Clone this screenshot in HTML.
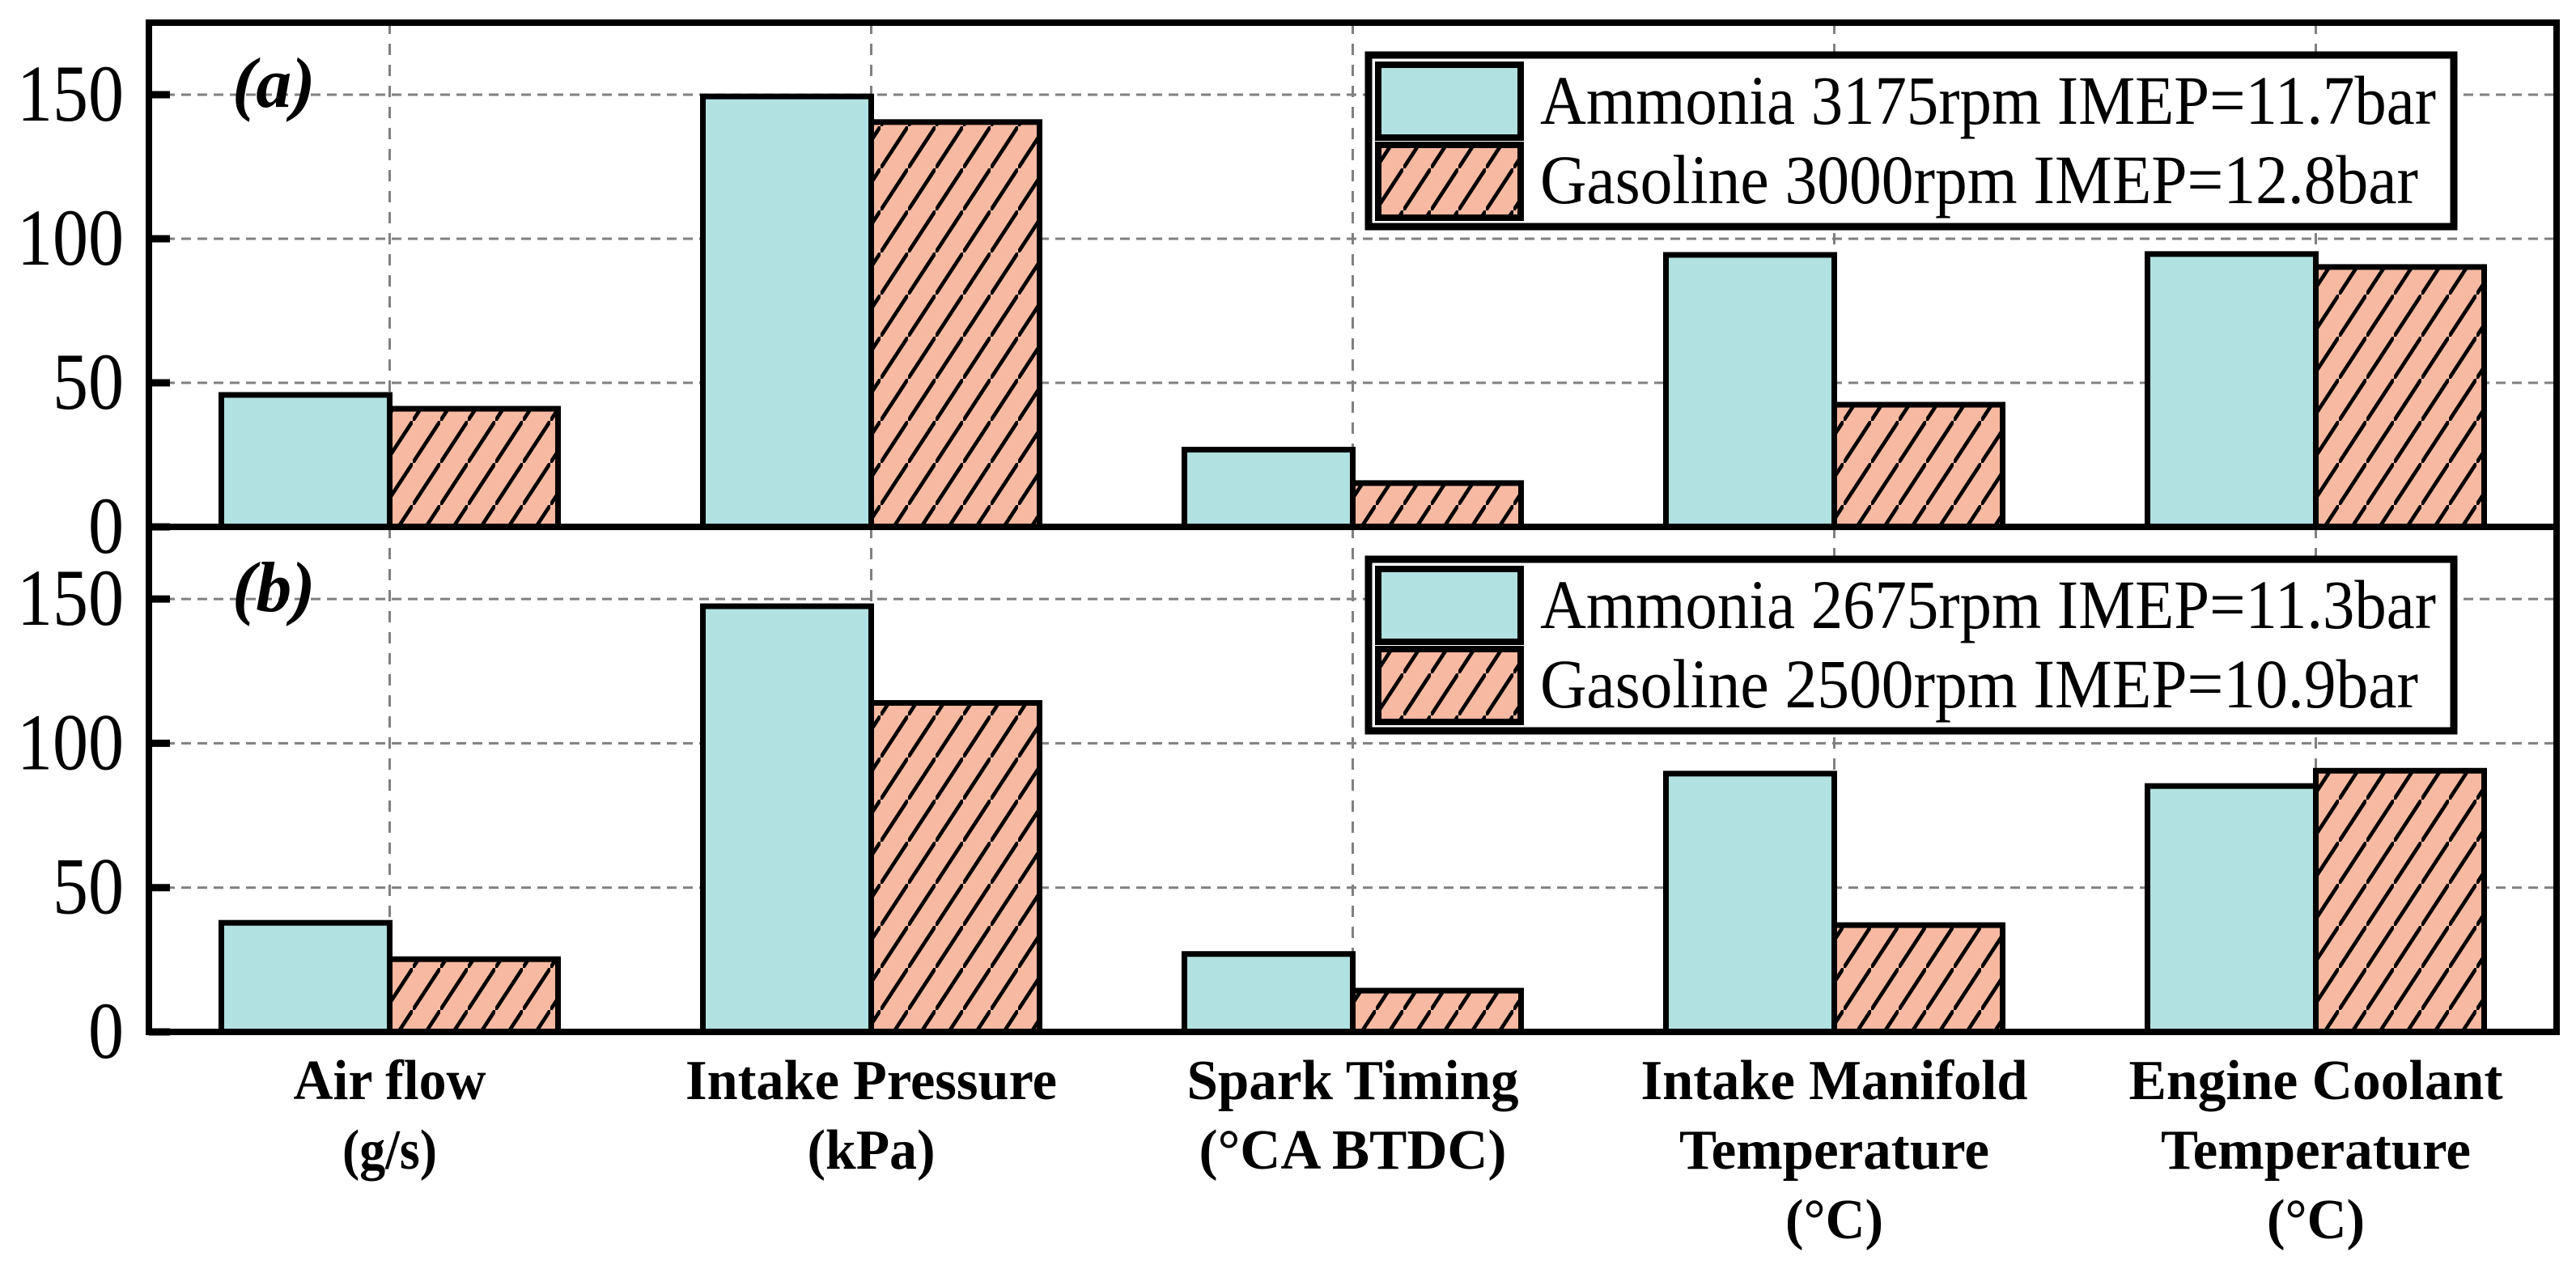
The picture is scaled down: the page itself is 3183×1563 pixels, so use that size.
<!DOCTYPE html>
<html><head><meta charset="utf-8">
<style>
html,body{margin:0;padding:0;background:#fff;}
svg{display:block;}
text{font-family:"Liberation Serif","DejaVu Serif",serif;}
</style></head>
<body>
<svg id="chart" width="3183" height="1563" viewBox="0 0 3183 1563" xmlns="http://www.w3.org/2000/svg" font-family="Liberation Serif, DejaVu Serif, serif">
<defs>
<pattern id="hatch" patternUnits="userSpaceOnUse" width="34" height="52">
<rect width="34" height="52" fill="#f7b9a1"/>
<line x1="-17" y1="78" x2="17" y2="26" stroke="#000" stroke-width="4.5"/>
<line x1="0" y1="52" x2="34" y2="0" stroke="#000" stroke-width="4.5"/>
<line x1="17" y1="26" x2="51" y2="-26" stroke="#000" stroke-width="4.5"/>
</pattern>
</defs>
<g id="root"></g>
</svg>
<script>
const categories = ["Air flow|(g/s)", "Intake Pressure|(kPa)", "Spark Timing|(°CA BTDC)", "Intake Manifold|Temperature|(°C)", "Engine Coolant|Temperature|(°C)"];
const ammoniaA = [45.8, 149.4, 26.8, 94.4, 94.7];
const gasolineA = [41.0, 140.5, 15.2, 42.4, 90.2];
const ammoniaB = [37.8, 147.5, 27.0, 89.5, 85.2];
const gasolineB = [25.2, 114.0, 14.3, 37.0, 90.5];
const yTicks = [0, 50, 100, 150];
const legendA = ["Ammonia 3175rpm IMEP=11.7bar", "Gasoline 3000rpm IMEP=12.8bar"];
const legendB = ["Ammonia 2675rpm IMEP=11.3bar", "Gasoline 2500rpm IMEP=10.9bar"];

const NS = "http://www.w3.org/2000/svg";
const root = document.getElementById("root");
const FONT = '"Liberation Serif", "DejaVu Serif", serif';
const X0 = 184, X1 = 3159, YMAX = 175;
const catW = (X1 - X0) / categories.length;
const barW = 208;
const labelWidths = {"Air flow": 238, "(g/s)": 117, "Intake Pressure": 459, "(kPa)": 158, "Spark Timing": 410, "(°CA BTDC)": 380, "Intake Manifold": 478, "Temperature": 383, "(°C)": 121, "Engine Coolant": 462};
function xCenter(i){ return X0 + catW * (i + 0.5); }

function mk(tag, attrs, parent){
  const e = document.createElementNS(NS, tag);
  for (const k in attrs) e.setAttribute(k, attrs[k]);
  if (tag === "text") e.style.fontFamily = FONT;
  (parent || root).appendChild(e);
  return e;
}

function panel(top, bottom, amm, gas, leg, tag, label){
  const g = mk("g", {});
  
  
  const y = v => bottom - (v / YMAX) * (bottom - top);
  yTicks.forEach(t => {
    if (t === 0) return;
    const l = mk("line", {x1: X0, x2: X1, y1: y(t), y2: y(t), stroke: "#808080", "stroke-width": 3, "stroke-dasharray": "12 8"}, g);
    
    
  });
  categories.forEach((c, i) => {
    const l = mk("line", {x1: xCenter(i), x2: xCenter(i), y1: top, y2: bottom, stroke: "#808080", "stroke-width": 3, "stroke-dasharray": "14 12"}, g);
    
    
  });
  categories.forEach((c, i) => {
    const cx = xCenter(i);
    const a = mk("rect", {x: cx - barW, y: y(amm[i]), width: barW, height: bottom - y(amm[i]), fill: "#b1e1e1", stroke: "#000", "stroke-width": 7}, g);
    
    
    const b = mk("rect", {x: cx, y: y(gas[i]), width: barW, height: bottom - y(gas[i]), fill: "url(#hatch)", stroke: "#000", "stroke-width": 7}, g);
    
    
  });
  yTicks.forEach(t => {
    const tk = mk("line", {x1: X0, x2: X0 + 26, y1: y(t), y2: y(t), stroke: "#000", "stroke-width": 9}, g);
    
    
    const s = String(t);
    const tx = mk("text", {x: 153, y: y(t) + 32, "text-anchor": "end", "font-size": 100, textLength: 44 * s.length, lengthAdjust: "spacingAndGlyphs"}, g);
    tx.textContent = s;
    
    
  });
  const fr = mk("rect", {x: X0, y: top, width: X1 - X0, height: bottom - top, fill: "none", stroke: "#000", "stroke-width": 8}, g);
  
  
  const pl = mk("text", {x: 287, y: top + 104, "font-size": 88, "font-weight": "bold", "font-style": "italic"}, g);
  pl.textContent = label;
  
  
  const lg = mk("g", {}, g);
  
  
  const lt = top + 40;
  mk("rect", {x: 1691, y: lt, width: 1341, height: 212, fill: "#fff", stroke: "#000", "stroke-width": 9}, lg);
  const sw1 = mk("rect", {x: 1703, y: lt + 12, width: 176, height: 90, fill: "#b1e1e1", stroke: "#000", "stroke-width": 8}, lg);
  
  
  const sw2 = mk("rect", {x: 1703, y: lt + 111, width: 176, height: 90, fill: "url(#hatch)", stroke: "#000", "stroke-width": 8}, lg);
  
  
  const t1 = mk("text", {x: 1903, y: lt + 85, "font-size": 86, textLength: 1107, lengthAdjust: "spacingAndGlyphs"}, lg);
  t1.textContent = leg[0];
  
  
  const t2 = mk("text", {x: 1903, y: lt + 183, "font-size": 86, textLength: 1085, lengthAdjust: "spacingAndGlyphs"}, lg);
  t2.textContent = leg[1];
  
  
}

panel(28, 651, ammoniaA, gasolineA, legendA, "a", "(a)");
panel(651, 1275, ammoniaB, gasolineB, legendB, "b", "(b)");

categories.forEach((c, i) => {
  c.split("|").forEach((line, j) => {
    const w = labelWidths[line] || Math.round(line.length * 31);
    const t = mk("text", {x: xCenter(i), y: 1358 + j * 86, "text-anchor": "middle", "font-size": 70, "font-weight": "bold", textLength: w, lengthAdjust: "spacingAndGlyphs"});
    t.textContent = line;
    
    
  });
});
</script>
</body></html>
